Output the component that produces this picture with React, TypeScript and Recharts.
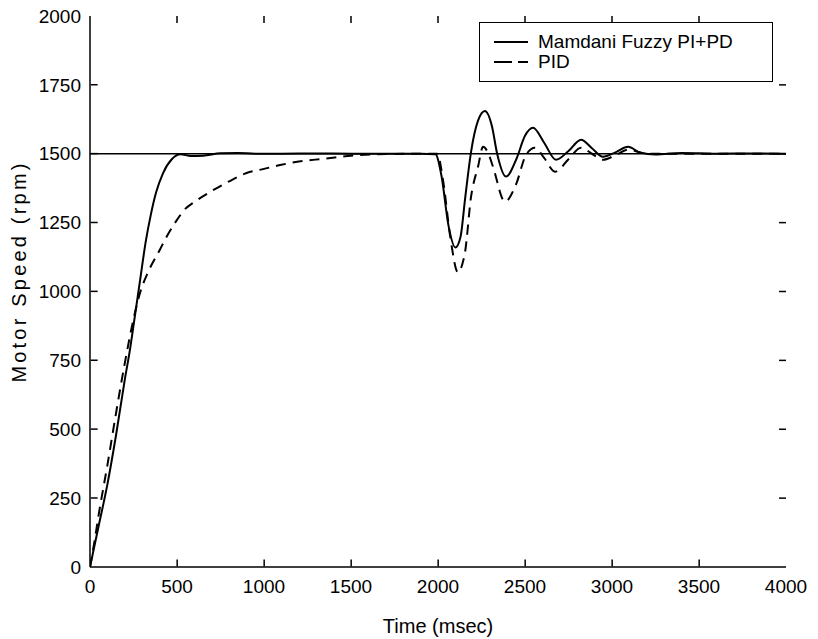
import React from 'react';
import { LineChart, Line, XAxis, YAxis, ReferenceLine } from 'recharts';

const fuzzyTime = [0, 50, 100, 150, 200, 230, 260, 290, 320, 350, 380, 420, 470, 520, 580, 650, 750, 850, 950, 1100, 1300, 1500, 1700, 1900, 1985, 2020, 2060, 2100, 2130, 2155, 2190, 2230, 2270, 2310, 2340, 2391, 2450, 2500, 2546, 2610, 2678, 2750, 2822, 2885, 2948, 3020, 3092, 3160, 3250, 3400, 3600, 3800, 4000];
const fuzzySpeed = [0, 150, 300, 480, 680, 790, 920, 1050, 1180, 1280, 1360, 1430, 1480, 1498, 1492, 1493, 1502, 1503, 1500, 1500, 1501, 1500, 1500, 1500, 1498, 1420, 1240, 1160, 1200, 1333, 1507, 1620, 1655, 1600, 1500, 1417, 1480, 1565, 1594, 1540, 1478, 1510, 1551, 1520, 1489, 1505, 1525, 1505, 1497, 1503, 1500, 1501, 1500];

const pidTime = [0, 25, 50, 100, 150, 200, 250, 290, 330, 400, 450, 500, 540, 600, 700, 800, 900, 1000, 1100, 1200, 1350, 1500, 1700, 1900, 1995, 2030, 2070, 2115, 2140, 2155, 2190, 2230, 2259, 2290, 2316, 2385, 2448, 2506, 2557, 2610, 2672, 2750, 2822, 2885, 2948, 3020, 3092, 3200, 3400, 3700, 4000];
const pidSpeed = [0, 90, 190, 370, 560, 740, 900, 1000, 1065, 1150, 1210, 1260, 1295, 1325, 1365, 1400, 1430, 1445, 1460, 1472, 1482, 1493, 1499, 1500, 1500, 1400, 1200, 1069, 1100, 1141, 1344, 1453, 1525, 1500, 1453, 1326, 1388, 1496, 1522, 1485, 1435, 1480, 1522, 1500, 1478, 1495, 1515, 1500, 1500, 1500, 1500];

const xTicks = [0, 500, 1000, 1500, 2000, 2500, 3000, 3500, 4000];
const yTicks = [0, 250, 500, 750, 1000, 1250, 1500, 1750, 2000];
const setpoint = 1500;
const legendLabels = ['Mamdani Fuzzy PI+PD', 'PID'];

const X_MIN = 0;
const X_MAX = 4000;
const Y_MIN = 0;
const Y_MAX = 2000;
// inward tick mark lengths in data units (about 7 px)
const TICK_DX = 40;
const TICK_DY = 25;
const NUDGE_X = 4;
const NUDGE_Y = 2;

const fuzzyData = fuzzyTime.map((t, i) => ({ t, v: fuzzySpeed[i] }));
const pidData = pidTime.map((t, i) => ({ t, v: pidSpeed[i] }));

const FONT = '"Liberation Sans", Arial, sans-serif';

const YLabel = (props: any) => {
  const vb = props.viewBox || {};
  const cx = 19;
  const cy = (vb.y || 16) + (vb.height || 551) / 2 - 20;
  return (
    <text x={cx} y={cy} transform={`rotate(-90 ${cx} ${cy})`} textAnchor="middle" dominantBaseline="central" fontSize={20} letterSpacing={3.2} fill="#000" fontFamily={FONT}>
      Motor Speed (rpm)
    </text>
  );
};

export default function App() {
  const innerX = xTicks.filter((t) => t > X_MIN && t < X_MAX);
  const innerY = yTicks.filter((v) => v > Y_MIN && v < Y_MAX);
  return (
    <div style={{ position: 'absolute', left: 0, top: 0, width: 818, height: 639, background: '#fff', fontFamily: FONT }}>
      <LineChart width={818} height={639} margin={{ top: 16, right: 32, bottom: 0, left: 0 }}>
        <XAxis
          dataKey="t"
          type="number"
          domain={[X_MIN, X_MAX]}
          ticks={xTicks}
          allowDataOverflow
          height={72}
          tickSize={0}
          tickMargin={13}
          tickLine={false}
          stroke="#000"
          strokeWidth={1.5}
          tick={{ fill: '#000', fontSize: 19, fontFamily: FONT }}
          label={{ value: 'Time (msec)', position: 'insideBottom', offset: 6, fill: '#000', fontSize: 20, fontFamily: FONT }}
        />
        <XAxis xAxisId="top" orientation="top" dataKey="t" type="number" domain={[X_MIN, X_MAX]} ticks={xTicks} height={0} tickLine={false} tick={false} stroke="#000" strokeWidth={1.5} />
        <YAxis
          type="number"
          domain={[Y_MIN, Y_MAX]}
          ticks={yTicks}
          width={90}
          tickSize={0}
          tickMargin={9}
          tickLine={false}
          stroke="#000"
          strokeWidth={1.5}
          tick={{ fill: '#000', fontSize: 19, fontFamily: FONT }}
          label={<YLabel />}
        />
        <YAxis yAxisId="right" orientation="right" type="number" domain={[Y_MIN, Y_MAX]} ticks={yTicks} width={0} tickLine={false} tick={false} stroke="#000" strokeWidth={1.5} />
        <ReferenceLine y={setpoint} stroke="#000" strokeWidth={1.5} />
        <Line data={fuzzyData} dataKey="v" type="monotone" stroke="#000" strokeWidth={2} dot={false} isAnimationActive={false} />
        <Line data={pidData} dataKey="v" type="monotone" stroke="#000" strokeWidth={2} strokeDasharray="10 7" dot={false} isAnimationActive={false} />
        {innerX.map((t) => (
          <ReferenceLine key={`tick-top-${t}`} segment={[{ x: t, y: Y_MAX }, { x: t, y: Y_MAX - TICK_DY }]} stroke="#000" strokeWidth={1.5} />
        ))}
        {innerY.map((v) => (
          <ReferenceLine key={`tick-right-${v}`} segment={[{ x: X_MAX, y: v }, { x: X_MAX - TICK_DX, y: v }]} stroke="#000" strokeWidth={1.5} />
        ))}
        {innerX.map((t) => (
          <ReferenceLine key={`tick-bottom-${t}`} segment={[{ x: t + 1, y: Y_MIN + TICK_DY + NUDGE_Y }, { x: t + 1, y: Y_MIN + NUDGE_Y }]} stroke="#000" strokeWidth={1.5} />
        ))}
        {innerY.map((v) => (
          <ReferenceLine key={`tick-left-${v}`} segment={[{ x: X_MIN + TICK_DX + NUDGE_X, y: v + 0.5 }, { x: X_MIN + NUDGE_X, y: v + 0.5 }]} stroke="#000" strokeWidth={1.5} />
        ))}
      </LineChart>
      <div style={{ position: 'absolute', left: 479, top: 22, width: 292, height: 58, border: '1.5px solid #000', background: '#fff' }}>
        <svg width={292} height={58} style={{ position: 'absolute', left: 0, top: 0 }}>
          <line x1={14} y1={19} x2={48} y2={19} stroke="#000" strokeWidth={2} />
          <line x1={14} y1={39} x2={48} y2={39} stroke="#000" strokeWidth={2} strokeDasharray="18 6 10" />
          <text x={58} y={25} fontSize={19} fontFamily={FONT} fill="#000">{legendLabels[0]}</text>
          <text x={58} y={45} fontSize={19} fontFamily={FONT} fill="#000">{legendLabels[1]}</text>
        </svg>
      </div>
    </div>
  );
}
